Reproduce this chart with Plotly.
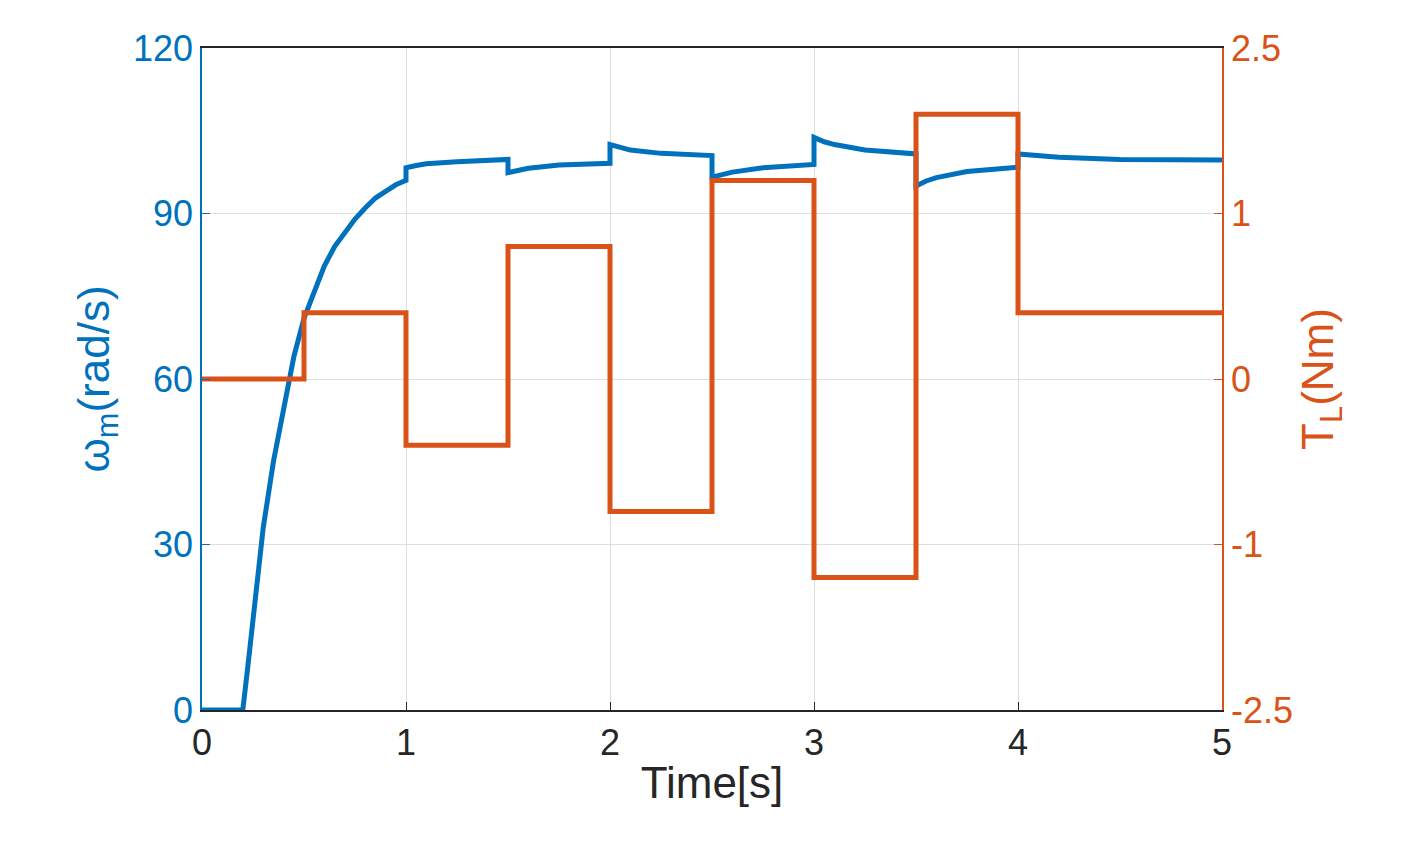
import plotly.graph_objects as go

# speed (left axis)
t_speed = [0, 0.2, 0.225, 0.25, 0.275, 0.3, 0.35, 0.4, 0.45, 0.5, 0.55, 0.6, 0.65, 0.7, 0.75, 0.8, 0.85, 0.9, 0.95, 1.0,
           1.0, 1.05, 1.1, 1.25, 1.5, 1.5, 1.55, 1.6, 1.75, 2.0, 2.0, 2.05, 2.1, 2.25, 2.5,
           2.5, 2.55, 2.6, 2.75, 3.0, 3.0, 3.05, 3.1, 3.25, 3.5, 3.5, 3.55, 3.6, 3.75, 4.0,
           4.0, 4.1, 4.2, 4.5, 5.0]
w_speed = [0, 0, 8, 17, 25, 33, 45, 55, 64, 71, 76, 80.5, 84, 86.5, 89, 91, 92.8, 94, 95.2, 96,
           98.3, 98.7, 99.0, 99.4, 99.8, 97.4, 97.8, 98.2, 98.8, 99.1, 102.5, 101.9, 101.5, 100.9, 100.5,
           96.6, 97.1, 97.5, 98.3, 98.9, 103.8, 103.0, 102.5, 101.5, 100.8, 95.0, 95.9, 96.5, 97.6, 98.4,
           100.8, 100.4, 100.2, 99.8, 99.7]

# load torque (right axis), step changes
t_torque = [0, 0.5, 0.5, 1.0, 1.0, 1.5, 1.5, 2.0, 2.0, 2.5, 2.5, 3.0, 3.0, 3.5, 3.5, 4.0, 4.0, 5.0]
tl_torque = [0, 0, 0.4, 0.4, -0.4, -0.4, 0.8, 0.8, -0.8, -0.8, 1.2, 1.2, -1.2, -1.2, 1.6, 1.6, 0.4, 0.4]

left_ticks = [0, 30, 60, 90, 120]
right_tickvals = [-2, -1, 0, 1, 2]
right_ticktext = ['-2.5', '-1', '0', '1', '2.5']
x_ticks = [0, 1, 2, 3, 4, 5]

blue = '#0072BD'
orange = '#D95319'
font = 'Liberation Sans'

fig = go.Figure()
fig.add_trace(go.Scatter(x=t_speed, y=w_speed, mode='lines',
                         line=dict(color=blue, width=5), yaxis='y'))
fig.add_trace(go.Scatter(x=t_torque, y=tl_torque, mode='lines',
                         line=dict(color=orange, width=5), yaxis='y2'))

fig.update_layout(
    width=1412, height=862,
    margin=dict(l=194, r=198, t=40, b=160),
    paper_bgcolor='white', plot_bgcolor='white',
    showlegend=False,
    font=dict(family=font, size=36),
    xaxis=dict(
        range=[0, 5], tickvals=x_ticks, automargin=False,
        title=dict(text='Time[s]', font=dict(size=44, color='#262626'), standoff=5),
        tickfont=dict(size=36, color='#262626'),
        showgrid=True, gridcolor='#DFDFDF', gridwidth=1,
        showline=True, linecolor='#262626', linewidth=1.5, mirror=True,
        ticks='inside', ticklen=8, tickcolor='#262626', zeroline=False
    ),
    yaxis=dict(
        range=[0, 120], tickvals=left_ticks, automargin=False,
        title=dict(text='ω<sub>m</sub>(rad/s)', font=dict(size=44, color=blue), standoff=10),
        tickfont=dict(size=36, color=blue),
        showgrid=True, gridcolor='#DFDFDF', gridwidth=1,
        showline=True, linecolor=blue, linewidth=1.5,
        ticks='inside', ticklen=8, tickcolor=blue, zeroline=False
    ),
    yaxis2=dict(
        overlaying='y', side='right', automargin=False,
        range=[-2, 2], tickvals=right_tickvals, ticktext=right_ticktext,
        title=dict(text='T<sub>L</sub>(Nm)', font=dict(size=44, color=orange), standoff=10),
        tickfont=dict(size=36, color=orange),
        showgrid=False,
        showline=True, linecolor=orange, linewidth=1.5,
        ticks='inside', ticklen=8, tickcolor=orange, zeroline=False
    )
)

fig.write_html("out.html")
